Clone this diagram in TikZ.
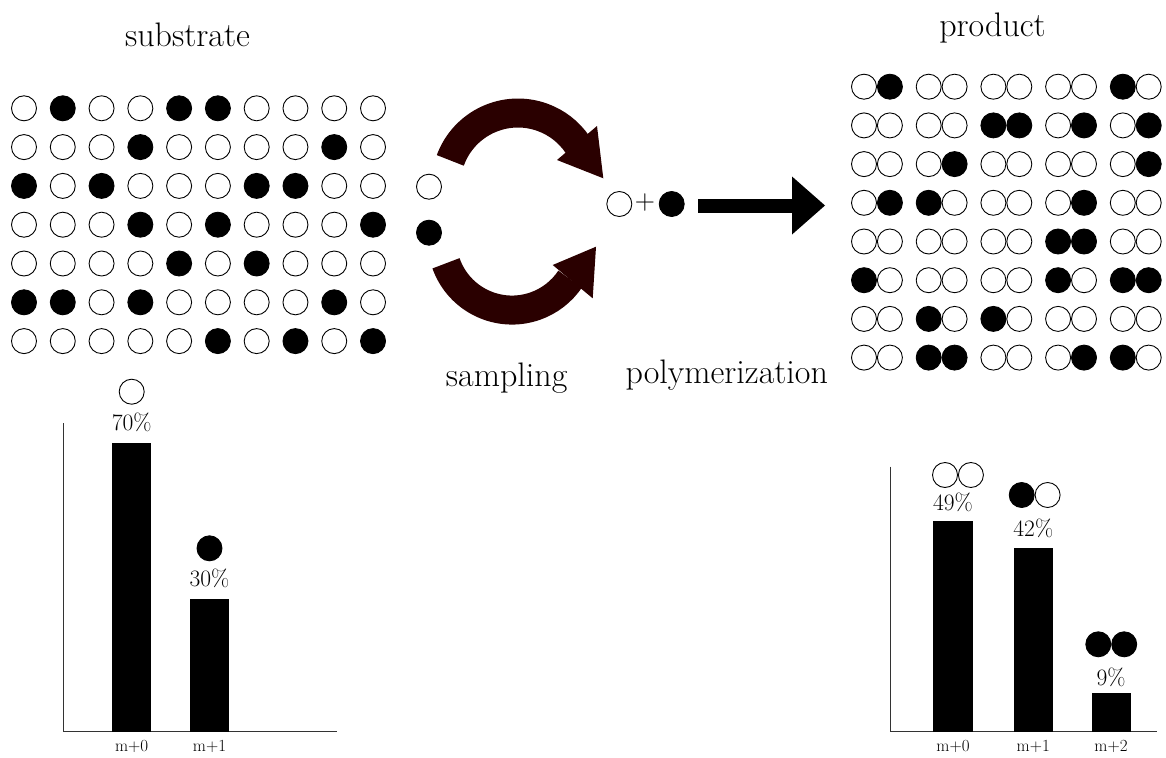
\documentclass[tikz,border=0pt]{standalone}
\usetikzlibrary{positioning}
\begin{document}
\begin{tikzpicture}[x=1pt, y=-1pt,
    ball0/.style={circle, draw=black, line width=0.9pt, fill=white, minimum size=25pt, inner sep=0pt},
    ball1/.style={ball0, fill=black},
    biglabel/.style={anchor=base, inner sep=0pt, font=\fontsize{34}{40}\selectfont},
    pctlabel/.style={anchor=base, inner sep=0pt, font=\fontsize{23.5}{28}\selectfont},
    ticklabel/.style={anchor=base, inner sep=0pt, font=\fontsize{17}{20}\selectfont},
    axisline/.style={draw=black!80, line width=0.8pt},
    samplearc/.style={draw=arcred, line width=29pt}]
    \definecolor{arcred}{RGB}{42,0,0}
    \useasboundingbox (0,0) rectangle (1166,757);
    % substrate: 10 x 7 monomers, 30% labelled
    \node[biglabel] (substrate) at (187.5,46.7) {substrate};
    \foreach \row [count=\r] in {{0,1,0,0,1,1,0,0,0,0},{0,0,0,1,0,0,0,0,1,0},{1,0,1,0,0,0,1,1,0,0},{0,0,0,1,0,1,0,0,0,1},{0,0,0,0,1,0,1,0,0,0},{1,1,0,1,0,0,0,0,1,0},{0,0,0,0,0,1,0,1,0,1}}
        \foreach \v [count=\c] in \row
            \node[ball\v] (s\r-\c) at ({24+38.78*(\c-1)}, {108.3+38.8*(\r-1)}) {};
    % product: dimers
    \node[biglabel] (product) at (992.5,36.7) {product};
    \foreach \row [count=\r] in {{0/1,0/0,0/0,0/0,1/0},{0/0,0/0,1/1,0/1,0/1},{0/0,0/1,0/0,0/0,0/1},{0/1,1/0,0/0,0/1,0/0},{0/0,0/0,0/0,1/1,0/0},{1/0,0/0,0/0,1/0,1/1},{0/0,1/0,1/0,0/0,0/0},{0/0,1/1,0/0,0/1,1/0}}
        \foreach \a/\b [count=\j] in \row {
            \node[ball\a] (p\r-\j-a) at ({864+64.7*(\j-1)}, {86.7+38.7*(\r-1)}) {};
            \node[ball\b, right=0pt of p\r-\j-a] (p\r-\j-b) {};
        }
    % sampling
    \node[ball0] (wsingle) at (429,186.7) {};
    \node[ball1] (bsingle) at (429,232.7) {};
    \node[ball0] (wpick) at (619.3,204) {};
    \node[inner sep=0pt, font=\fontsize{28}{30}\selectfont] (plus) at (645,202.5) {+};
    \node[ball1] (bpick) at (671.7,204) {};
    \draw[samplearc] (450.3,160.4) arc[start angle=-160, end angle=-34.5, radius=72];
    \fill[arcred] (597,126) -- (603.3,178.3) -- (557,160) -- cycle;
    \draw[samplearc] (446,263.3) arc[start angle=160.6, end angle=34, radius=70];
    \fill[arcred] (552.7,265) -- (596,246.7) -- (592.7,298.3) -- cycle;
    \node[biglabel] (sampling) at (506.7,386) {sampling};
    % polymerization arrow
    \coordinate (polystart) at (698,205.5);
    \coordinate (headbase) at (792,205.5);
    \coordinate (polyend) at (825,205.5);
    \draw[line width=14pt] (polystart) -- (headbase);
    \fill ([yshift=-29pt]headbase) -- (polyend) -- ([yshift=29pt]headbase) -- cycle;
    \node[biglabel] (polymerization) at (726.7,383.3) {polymerization};
    % substrate histogram
    \draw[axisline] (63.3,423) -- (63.3,731.7) -- (336.7,731.7);
    \fill (112.3,443.3) rectangle (151,731.7);
    \fill (190,599.3) rectangle (229,731.7);
    \node[ball0] (h0) at (131.7,391.7) {};
    \node[pctlabel] (h0pct) at (131.7,430) {70\%};
    \node[ball1] (h1) at (209.5,548.3) {};
    \node[pctlabel] (h1pct) at (209.5,586.7) {30\%};
    \node[ticklabel] (h0tick) at (131.7,751.5) {m+0};
    \node[ticklabel] (h1tick) at (209.5,751.5) {m+1};
    % product histogram
    \draw[axisline] (890.7,466.7) -- (890.7,731.7) -- (1156.7,731.7);
    \fill (933.3,520.7) rectangle (972.7,731.7);
    \fill (1014,548.3) rectangle (1052.7,731.7);
    \fill (1091.7,692.7) rectangle (1130.7,731.7);
    \node[ball0] (k0a) at (945,475) {};
    \node[ball0, right=0pt of k0a] (k0b) {};
    \node[pctlabel] (k0pct) at (953,510) {49\%};
    \node[ball1] (k1a) at (1021.7,495) {};
    \node[ball0, right=0pt of k1a] (k1b) {};
    \node[pctlabel] (k1pct) at (1033.3,536) {42\%};
    \node[ball1] (k2a) at (1098.3,644.3) {};
    \node[ball1, right=0pt of k2a] (k2b) {};
    \node[pctlabel] (k2pct) at (1111,685) {9\%};
    \node[ticklabel] (k0tick) at (953,751.5) {m+0};
    \node[ticklabel] (k1tick) at (1033.3,751.5) {m+1};
    \node[ticklabel] (k2tick) at (1111,751.5) {m+2};
\end{tikzpicture}
\end{document}
